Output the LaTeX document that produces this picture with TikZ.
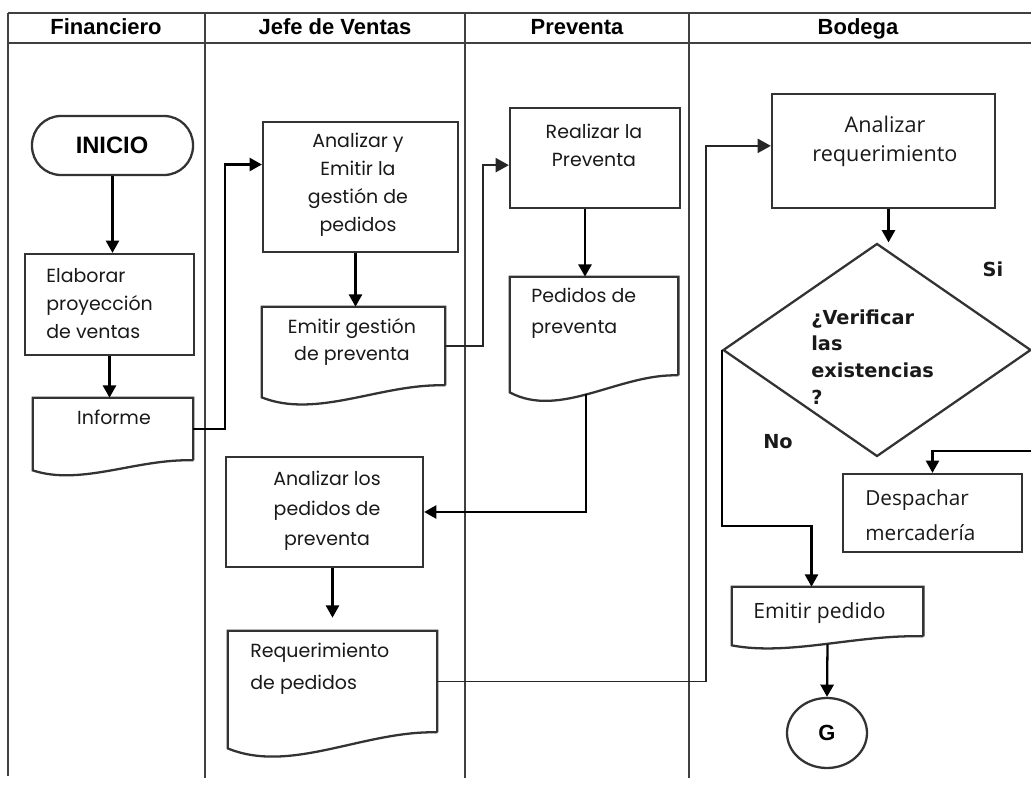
\documentclass[tikz,border=0pt]{standalone}
\usepackage{fontspec}
\setmainfont{Poppins}
\newfontfamily\hdfont{Liberation Sans}
\newfontfamily\osfont{Open Sans}
\newfontfamily\dvfont{DejaVu Sans}
\usetikzlibrary{shapes.geometric,arrows.meta,calc,fit}
\newcommand{\pxu}{0.02cm}
\newcommand{\docwave}[3]{%
  \draw[box] (#1.south east) -- (#1.north east) -- (#1.north west) -- ($(#1.south west)+(0,#2)$)
    .. controls ($(#1.south west)!0.3!(#1.south east)+(0,#3)$) and ($(#1.south west)!0.65!(#1.south east)+(0,-2)$) .. (#1.south east);}
\tikzset{
  box/.style={draw=black!80, line width=1.3pt, inner sep=0pt},
  docbox/.style={draw=none, inner sep=0pt},
  lane/.style={draw=black!75, line width=1.5pt},
  conn/.style={draw=black, line width=1.3pt},
  thinconn/.style={draw=black!85, line width=1.05pt},
  arr/.style={conn, -{Triangle[length=7pt,width=7.5pt]}},
  tarr/.style={thinconn, -{Triangle[length=7.5pt,width=8pt]}},
  hd/.style={font=\hdfont\bfseries\fontsize{12.5}{14}\selectfont, inner sep=0pt},
  cg/.style={font=\fontsize{10.8}{15.9}\selectfont, inner sep=0pt, text=black!90},
  os/.style={font=\osfont\fontsize{12.3}{16.4}\selectfont, inner sep=0pt, text=black!90},
  dv/.style={font=\dvfont\bfseries\fontsize{11}{15.3}\selectfont, inner sep=0pt, text=black!90},
}
\begin{document}
\begin{tikzpicture}[x=0.02cm, y=-0.02cm]
\useasboundingbox (0,0) rectangle (1031,803);
% lanes
\draw[lane] (8,13) -- (1031,13);
\draw[lane] (8,43) -- (1031,43);
\draw[lane] (8,13) -- (8,776);
\draw[lane] (205,13) -- (205,778);
\draw[lane] (465,13) -- (465,778);
\draw[lane] (689,13) -- (689,778);
\node[hd, anchor=base] (h1) at (106,35) {Financiero};
\node[hd, anchor=base] (h2) at (335,35) {Jefe de Ventas};
\node[hd, anchor=base] (h3) at (577,35) {Preventa};
\node[hd, anchor=base] (h4) at (858,35) {Bodega};

% shapes
\node[box, rounded corners=0.58cm, fit={(32,116) (193,175)}] (inicio) {};
\node[hd, font=\hdfont\bfseries\fontsize{13.5}{15}\selectfont] (inicio-t) at (112,145) {INICIO};

\node[box, fit={(25,254) (194,355)}] (elab) {};
\node[cg, align=left, anchor=west] (elab-t) at (46,304) {Elaborar\\proyección\\de ventas};

\node[docbox, fit={(33,398) (193,460)}] (inf) {};
\docwave{inf}{10}{26}
\node[cg] (inf-t) at (114,417) {Informe};

\node[box, fit={(263,122) (458,252)}] (anay) {};
\node[cg, align=center] (anay-t) at (358,184.5) {Analizar y\\Emitir la\\gestión de\\pedidos};

\node[docbox, fit={(262,307) (445,385)}] (emg) {};
\docwave{emg}{12}{34}
\node[cg, align=center] (emg-t) at (352,342) {Emitir gestión\\de preventa};

\node[box, fit={(510,108) (680,208)}] (real) {};
\node[cg, align=center] (real-t) at (594,145) {Realizar la\\Preventa};

\node[docbox, fit={(510,277) (678,375)}] (ped) {};
\docwave{ped}{17}{44}
\node[cg, align=left, anchor=west, font=\fontsize{10.8}{17.5}\selectfont] (ped-t) at (531,313.5) {Pedidos de\\preventa};

\node[box, fit={(226,457) (423,567)}] (anal) {};
\node[cg, align=center, font=\fontsize{10.8}{17}\selectfont] (anal-t) at (327,511) {Analizar los\\pedidos de\\preventa};

\node[docbox, fit={(228,631) (437,732)}] (req) {};
\docwave{req}{16}{42}
\node[cg, align=left, anchor=west, font=\fontsize{10.8}{18}\selectfont] (req-t) at (250,669) {Requerimiento\\de pedidos};

\node[box, fit={(772,94) (995,208)}] (anreq) {};
\node[os, align=center] (anreq-t) at (885,141.5) {Analizar\\requerimiento};

\node[box, diamond, minimum width=308*\pxu, minimum height=213*\pxu] (dia) at (877,350) {};
\node[dv, align=left, anchor=west] (dia-t) at (811,357) {¿Verificar\\las\\existencias\\?};
\node[dv] (si) at (993,269) {Si};
\node[dv] (no) at (778,442) {No};

\node[box, fit={(843,474) (1022,552)}] (desp) {};
\node[os, align=left, anchor=west, font=\osfont\fontsize{11.8}{19.8}\selectfont] (desp-t) at (865,515.5) {Despachar\\mercadería};

\node[docbox, fit={(732,587) (923,636)}] (emp) {};
\docwave{emp}{9}{20}
\node[os, anchor=west, font=\osfont\fontsize{12}{16}\selectfont] (emp-t) at (753,613) {Emitir pedido};

\node[box, ellipse, minimum width=80*\pxu, minimum height=70*\pxu] (g) at (827,733) {};
\node[hd] (g-t) at (827,733) {G};

% connectors
\draw[arr] (inicio.south) -- (inicio.south |- elab.north);
\draw[arr] (elab.south) -- (elab.south |- inf.north);
\draw[arr] (inf.east) -- ++(32,0) |- ($(anay.north west)!0.33!(anay.south west)$);
\draw[arr] ($(anay.south)+(-5,0)$) -- ($(anay.south |- emg.north)+(-5,0)$);
\draw[tarr] (emg.east) -- ++(38,0) |- ($(real.north west)!0.57!(real.south west)$);
\draw[arr] ($(real.south)+(-10,0)$) -- ($(real.south |- ped.north)+(-10,0)$);
\draw[arr] ($(ped.south)+(-8,19)$) |- (anal.east);
\draw[arr, shorten >=13*\pxu] (anal.south -| req.north) -- (req.north);
\draw[tarr] (req.east) -- ++(269,0) |- ($(anreq.north west)!0.456!(anreq.south west)$);
\draw[arr] ($(anreq.south)+(5,0)$) -- ($(anreq.south |- dia.north)+(5,0)$);
\draw[arr] (dia.west) -- ++(0,176) -| ($(emp.north)+(-16,0)$);
\draw[arr] (dia.east) -- ++(0,101) -| (desp.north);
\draw[arr] ($(emp.south)+(0,8)$) -- (g.north);
\end{tikzpicture}
\end{document}
